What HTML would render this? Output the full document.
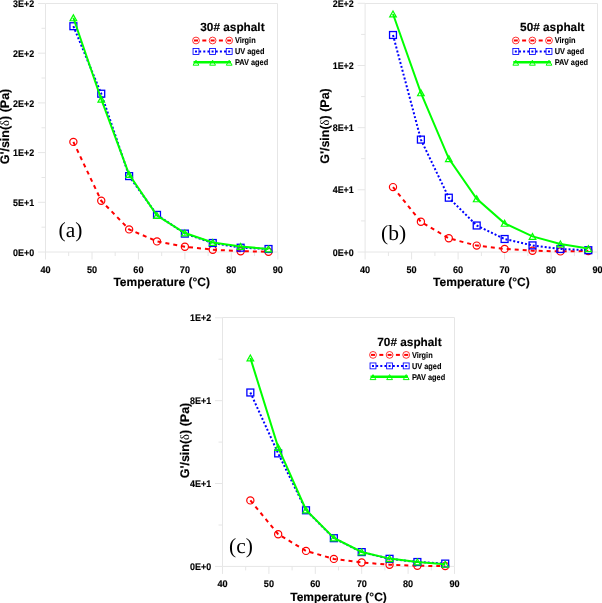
<!DOCTYPE html>
<html><head><meta charset="utf-8"><style>
html,body{margin:0;padding:0;background:#fff;}
svg{display:block;will-change:transform;}
text{font-family:"Liberation Sans",sans-serif;font-weight:bold;fill:#000;text-rendering:geometricPrecision;}
.tl{font-size:9.6px;stroke:#000;stroke-width:0.15px;}
.at{font-size:12px;stroke:#000;stroke-width:0.15px;}
.ay{font-size:12.5px;stroke:#000;stroke-width:0.15px;}
.lt{font-size:11.8px;stroke:#000;stroke-width:0.15px;}
.le{font-size:8.2px;stroke:#000;stroke-width:0.1px;}
.sym{font-family:"Liberation Serif",serif;font-weight:normal;stroke-width:0;}
.lb{font-family:"Liberation Serif",serif;font-weight:normal;font-size:21.5px;}
</style></head><body>
<svg width="602" height="603" viewBox="0 0 602 603">
<rect width="602" height="603" fill="#fff"/>
<path d="M45.5,3.5H277.5V252.0" fill="none" stroke="#e6e6e6" stroke-width="1"/>
<path d="M45.5,3.5V252.0H277.5" fill="none" stroke="#e6e6e6" stroke-width="1"/>
<path d="M38.0,252.0H45.5" stroke="#e6e6e6" stroke-width="1"/>
<text transform="translate(34.20,255.60) scale(0.93,1)" class="tl" text-anchor="end">0E+0</text>
<path d="M41.5,227.2H45.5" stroke="#e6e6e6" stroke-width="1"/>
<path d="M38.0,202.3H45.5" stroke="#e6e6e6" stroke-width="1"/>
<text transform="translate(34.20,205.90) scale(0.93,1)" class="tl" text-anchor="end">5E+1</text>
<path d="M41.5,177.5H45.5" stroke="#e6e6e6" stroke-width="1"/>
<path d="M38.0,152.6H45.5" stroke="#e6e6e6" stroke-width="1"/>
<text transform="translate(34.20,156.20) scale(0.93,1)" class="tl" text-anchor="end">1E+2</text>
<path d="M41.5,127.8H45.5" stroke="#e6e6e6" stroke-width="1"/>
<path d="M38.0,102.9H45.5" stroke="#e6e6e6" stroke-width="1"/>
<text transform="translate(34.20,106.50) scale(0.93,1)" class="tl" text-anchor="end">2E+2</text>
<path d="M41.5,78.0H45.5" stroke="#e6e6e6" stroke-width="1"/>
<path d="M38.0,53.2H45.5" stroke="#e6e6e6" stroke-width="1"/>
<text transform="translate(34.20,56.80) scale(0.93,1)" class="tl" text-anchor="end">2E+2</text>
<path d="M41.5,28.3H45.5" stroke="#e6e6e6" stroke-width="1"/>
<path d="M38.0,3.5H45.5" stroke="#e6e6e6" stroke-width="1"/>
<text transform="translate(34.20,7.10) scale(0.93,1)" class="tl" text-anchor="end">3E+2</text>
<path d="M45.5,252.0V259.5" stroke="#e6e6e6" stroke-width="1"/>
<text transform="translate(45.50,272.80) scale(0.95,1)" class="tl" text-anchor="middle">40</text>
<path d="M68.7,252.0V256.0" stroke="#e6e6e6" stroke-width="1"/>
<path d="M92.0,252.0V259.5" stroke="#e6e6e6" stroke-width="1"/>
<text transform="translate(91.96,272.80) scale(0.95,1)" class="tl" text-anchor="middle">50</text>
<path d="M115.2,252.0V256.0" stroke="#e6e6e6" stroke-width="1"/>
<path d="M138.4,252.0V259.5" stroke="#e6e6e6" stroke-width="1"/>
<text transform="translate(138.42,272.80) scale(0.95,1)" class="tl" text-anchor="middle">60</text>
<path d="M161.7,252.0V256.0" stroke="#e6e6e6" stroke-width="1"/>
<path d="M184.9,252.0V259.5" stroke="#e6e6e6" stroke-width="1"/>
<text transform="translate(184.88,272.80) scale(0.95,1)" class="tl" text-anchor="middle">70</text>
<path d="M208.1,252.0V256.0" stroke="#e6e6e6" stroke-width="1"/>
<path d="M231.3,252.0V259.5" stroke="#e6e6e6" stroke-width="1"/>
<text transform="translate(231.34,272.80) scale(0.95,1)" class="tl" text-anchor="middle">80</text>
<path d="M254.6,252.0V256.0" stroke="#e6e6e6" stroke-width="1"/>
<path d="M277.8,252.0V259.5" stroke="#e6e6e6" stroke-width="1"/>
<text transform="translate(277.80,272.80) scale(0.95,1)" class="tl" text-anchor="middle">90</text>
<text x="161.7" y="286.2" class="at" text-anchor="middle">Temperature (°C)</text>
<text transform="translate(9.0,126.5) rotate(-90)" class="ay" text-anchor="middle">G'/sin(<tspan class="sym">δ</tspan>) (Pa)</text>
<path d="M73.38,141.90 L101.25,200.80 L129.13,229.40 L157.00,241.40 L184.88,246.70 L212.76,249.70 L240.63,251.20 L268.51,251.70" fill="none" stroke="#ff0000" stroke-width="2" stroke-dasharray="4,4"/>
<circle cx="73.38" cy="141.90" r="3.60" fill="none" stroke="#ff0000" stroke-width="1.2"/>
<circle cx="101.25" cy="200.80" r="3.60" fill="none" stroke="#ff0000" stroke-width="1.2"/>
<circle cx="129.13" cy="229.40" r="3.60" fill="none" stroke="#ff0000" stroke-width="1.2"/>
<circle cx="157.00" cy="241.40" r="3.60" fill="none" stroke="#ff0000" stroke-width="1.2"/>
<circle cx="184.88" cy="246.70" r="3.60" fill="none" stroke="#ff0000" stroke-width="1.2"/>
<circle cx="212.76" cy="249.70" r="3.60" fill="none" stroke="#ff0000" stroke-width="1.2"/>
<circle cx="240.63" cy="251.20" r="3.60" fill="none" stroke="#ff0000" stroke-width="1.2"/>
<circle cx="268.51" cy="251.70" r="3.60" fill="none" stroke="#ff0000" stroke-width="1.2"/>
<path d="M73.38,26.20 L101.25,93.70 L129.13,176.10 L157.00,214.90 L184.88,233.60 L212.76,243.00 L240.63,247.70 L268.51,249.00" fill="none" stroke="#0000ff" stroke-width="2" stroke-dasharray="2,2"/>
<rect x="69.93" y="22.75" width="6.90" height="6.90" fill="none" stroke="#0000ff" stroke-width="1.3"/>
<rect x="97.80" y="90.25" width="6.90" height="6.90" fill="none" stroke="#0000ff" stroke-width="1.3"/>
<rect x="125.68" y="172.65" width="6.90" height="6.90" fill="none" stroke="#0000ff" stroke-width="1.3"/>
<rect x="153.55" y="211.45" width="6.90" height="6.90" fill="none" stroke="#0000ff" stroke-width="1.3"/>
<rect x="181.43" y="230.15" width="6.90" height="6.90" fill="none" stroke="#0000ff" stroke-width="1.3"/>
<rect x="209.31" y="239.55" width="6.90" height="6.90" fill="none" stroke="#0000ff" stroke-width="1.3"/>
<rect x="237.18" y="244.25" width="6.90" height="6.90" fill="none" stroke="#0000ff" stroke-width="1.3"/>
<rect x="265.06" y="245.55" width="6.90" height="6.90" fill="none" stroke="#0000ff" stroke-width="1.3"/>
<path d="M73.38,17.80 L101.25,99.20 L129.13,174.50 L157.00,215.50 L184.88,233.00 L212.76,242.40 L240.63,246.50 L268.51,249.00" fill="none" stroke="#00ff00" stroke-width="2"/>
<path d="M73.38,14.85 L76.68,20.75 L70.08,20.75 Z" fill="none" stroke="#00ff00" stroke-width="1.2" stroke-linejoin="miter"/>
<path d="M101.25,96.25 L104.55,102.15 L97.95,102.15 Z" fill="none" stroke="#00ff00" stroke-width="1.2" stroke-linejoin="miter"/>
<path d="M129.13,171.55 L132.43,177.45 L125.83,177.45 Z" fill="none" stroke="#00ff00" stroke-width="1.2" stroke-linejoin="miter"/>
<path d="M157.00,212.55 L160.30,218.45 L153.70,218.45 Z" fill="none" stroke="#00ff00" stroke-width="1.2" stroke-linejoin="miter"/>
<path d="M184.88,230.05 L188.18,235.95 L181.58,235.95 Z" fill="none" stroke="#00ff00" stroke-width="1.2" stroke-linejoin="miter"/>
<path d="M212.76,239.45 L216.06,245.35 L209.46,245.35 Z" fill="none" stroke="#00ff00" stroke-width="1.2" stroke-linejoin="miter"/>
<path d="M240.63,243.55 L243.93,249.45 L237.33,249.45 Z" fill="none" stroke="#00ff00" stroke-width="1.2" stroke-linejoin="miter"/>
<path d="M268.51,246.05 L271.81,251.95 L265.21,251.95 Z" fill="none" stroke="#00ff00" stroke-width="1.2" stroke-linejoin="miter"/>
<text x="200.3" y="31.3" class="lt">30# asphalt</text>
<path d="M194.00,40.50H198.00" stroke="#ff0000" stroke-width="2"/>
<path d="M202.30,40.50H206.30" stroke="#ff0000" stroke-width="2"/>
<path d="M210.60,40.50H214.60" stroke="#ff0000" stroke-width="2"/>
<path d="M218.90,40.50H222.90" stroke="#ff0000" stroke-width="2"/>
<path d="M227.20,40.50H231.20" stroke="#ff0000" stroke-width="2"/>
<circle cx="196.00" cy="40.50" r="3.4" fill="none" stroke="#ff0000" stroke-width="0.8"/>
<circle cx="212.60" cy="40.50" r="3.4" fill="none" stroke="#ff0000" stroke-width="0.8"/>
<circle cx="229.20" cy="40.50" r="3.4" fill="none" stroke="#ff0000" stroke-width="0.8"/>
<path d="M195.00,51.50H230.20" stroke="#0000ff" stroke-width="2" stroke-dasharray="2,2.15"/>
<rect x="193.05" y="48.55" width="5.9" height="5.9" fill="none" stroke="#0000ff" stroke-width="0.85"/>
<rect x="209.65" y="48.55" width="5.9" height="5.9" fill="none" stroke="#0000ff" stroke-width="0.85"/>
<rect x="226.25" y="48.55" width="5.9" height="5.9" fill="none" stroke="#0000ff" stroke-width="0.85"/>
<path d="M193.50,62.30H231.00" stroke="#00ff00" stroke-width="2.4"/>
<path d="M196.00,60.20 L198.90,65.20 L193.10,65.20 Z" fill="none" stroke="#00ff00" stroke-width="1"/>
<path d="M212.60,60.20 L215.50,65.20 L209.70,65.20 Z" fill="none" stroke="#00ff00" stroke-width="1"/>
<path d="M229.20,60.20 L232.10,65.20 L226.30,65.20 Z" fill="none" stroke="#00ff00" stroke-width="1"/>
<text transform="translate(234.90,43.40) scale(0.9,1)" class="le">Virgin</text>
<text transform="translate(234.90,54.40) scale(0.9,1)" class="le">UV aged</text>
<text transform="translate(234.90,65.20) scale(0.9,1)" class="le">PAV aged</text>
<text x="58.6" y="237.4" class="lb">(a)</text>
<path d="M365.1,3.5H597.5V252.0" fill="none" stroke="#e6e6e6" stroke-width="1"/>
<path d="M365.1,3.5V252.0H597.5" fill="none" stroke="#e6e6e6" stroke-width="1"/>
<path d="M357.6,252.0H365.1" stroke="#e6e6e6" stroke-width="1"/>
<text transform="translate(353.80,255.60) scale(0.93,1)" class="tl" text-anchor="end">0E+0</text>
<path d="M361.1,220.9H365.1" stroke="#e6e6e6" stroke-width="1"/>
<path d="M357.6,189.8H365.1" stroke="#e6e6e6" stroke-width="1"/>
<text transform="translate(353.80,193.42) scale(0.93,1)" class="tl" text-anchor="end">4E+1</text>
<path d="M361.1,158.7H365.1" stroke="#e6e6e6" stroke-width="1"/>
<path d="M357.6,127.7H365.1" stroke="#e6e6e6" stroke-width="1"/>
<text transform="translate(353.80,131.25) scale(0.93,1)" class="tl" text-anchor="end">8E+1</text>
<path d="M361.1,96.6H365.1" stroke="#e6e6e6" stroke-width="1"/>
<path d="M357.6,65.5H365.1" stroke="#e6e6e6" stroke-width="1"/>
<text transform="translate(353.80,69.08) scale(0.93,1)" class="tl" text-anchor="end">1E+2</text>
<path d="M361.1,34.4H365.1" stroke="#e6e6e6" stroke-width="1"/>
<path d="M357.6,3.3H365.1" stroke="#e6e6e6" stroke-width="1"/>
<text transform="translate(353.80,6.90) scale(0.93,1)" class="tl" text-anchor="end">2E+2</text>
<path d="M365.1,252.0V259.5" stroke="#e6e6e6" stroke-width="1"/>
<text transform="translate(365.10,272.80) scale(0.95,1)" class="tl" text-anchor="middle">40</text>
<path d="M388.4,252.0V256.0" stroke="#e6e6e6" stroke-width="1"/>
<path d="M411.6,252.0V259.5" stroke="#e6e6e6" stroke-width="1"/>
<text transform="translate(411.60,272.80) scale(0.95,1)" class="tl" text-anchor="middle">50</text>
<path d="M434.9,252.0V256.0" stroke="#e6e6e6" stroke-width="1"/>
<path d="M458.1,252.0V259.5" stroke="#e6e6e6" stroke-width="1"/>
<text transform="translate(458.10,272.80) scale(0.95,1)" class="tl" text-anchor="middle">60</text>
<path d="M481.4,252.0V256.0" stroke="#e6e6e6" stroke-width="1"/>
<path d="M504.6,252.0V259.5" stroke="#e6e6e6" stroke-width="1"/>
<text transform="translate(504.60,272.80) scale(0.95,1)" class="tl" text-anchor="middle">70</text>
<path d="M527.9,252.0V256.0" stroke="#e6e6e6" stroke-width="1"/>
<path d="M551.1,252.0V259.5" stroke="#e6e6e6" stroke-width="1"/>
<text transform="translate(551.10,272.80) scale(0.95,1)" class="tl" text-anchor="middle">80</text>
<path d="M574.4,252.0V256.0" stroke="#e6e6e6" stroke-width="1"/>
<path d="M597.6,252.0V259.5" stroke="#e6e6e6" stroke-width="1"/>
<text transform="translate(597.60,272.80) scale(0.95,1)" class="tl" text-anchor="middle">90</text>
<text x="481.4" y="286.2" class="at" text-anchor="middle">Temperature (°C)</text>
<text transform="translate(329.0,126.0) rotate(-90)" class="ay" text-anchor="middle">G'/sin(<tspan class="sym">δ</tspan>) (Pa)</text>
<path d="M393.00,187.10 L420.90,221.80 L448.80,238.30 L476.70,245.60 L504.60,248.90 L532.50,250.70 L560.40,251.40 L588.30,251.00" fill="none" stroke="#ff0000" stroke-width="2" stroke-dasharray="4,4"/>
<circle cx="393.00" cy="187.10" r="3.60" fill="none" stroke="#ff0000" stroke-width="1.2"/>
<circle cx="420.90" cy="221.80" r="3.60" fill="none" stroke="#ff0000" stroke-width="1.2"/>
<circle cx="448.80" cy="238.30" r="3.60" fill="none" stroke="#ff0000" stroke-width="1.2"/>
<circle cx="476.70" cy="245.60" r="3.60" fill="none" stroke="#ff0000" stroke-width="1.2"/>
<circle cx="504.60" cy="248.90" r="3.60" fill="none" stroke="#ff0000" stroke-width="1.2"/>
<circle cx="532.50" cy="250.70" r="3.60" fill="none" stroke="#ff0000" stroke-width="1.2"/>
<circle cx="560.40" cy="251.40" r="3.60" fill="none" stroke="#ff0000" stroke-width="1.2"/>
<circle cx="588.30" cy="251.00" r="3.60" fill="none" stroke="#ff0000" stroke-width="1.2"/>
<path d="M393.00,35.00 L420.90,139.60 L448.80,197.70 L476.70,225.50 L504.60,239.00 L532.50,245.40 L560.40,249.00 L588.30,250.20" fill="none" stroke="#0000ff" stroke-width="2" stroke-dasharray="2,2"/>
<rect x="389.55" y="31.55" width="6.90" height="6.90" fill="none" stroke="#0000ff" stroke-width="1.3"/>
<rect x="417.45" y="136.15" width="6.90" height="6.90" fill="none" stroke="#0000ff" stroke-width="1.3"/>
<rect x="445.35" y="194.25" width="6.90" height="6.90" fill="none" stroke="#0000ff" stroke-width="1.3"/>
<rect x="473.25" y="222.05" width="6.90" height="6.90" fill="none" stroke="#0000ff" stroke-width="1.3"/>
<rect x="501.15" y="235.55" width="6.90" height="6.90" fill="none" stroke="#0000ff" stroke-width="1.3"/>
<rect x="529.05" y="241.95" width="6.90" height="6.90" fill="none" stroke="#0000ff" stroke-width="1.3"/>
<rect x="556.95" y="245.55" width="6.90" height="6.90" fill="none" stroke="#0000ff" stroke-width="1.3"/>
<rect x="584.85" y="246.75" width="6.90" height="6.90" fill="none" stroke="#0000ff" stroke-width="1.3"/>
<path d="M393.00,14.00 L420.90,92.80 L448.80,158.60 L476.70,198.80 L504.60,223.30 L532.50,236.40 L560.40,244.00 L588.30,248.60" fill="none" stroke="#00ff00" stroke-width="2"/>
<path d="M393.00,11.05 L396.30,16.95 L389.70,16.95 Z" fill="none" stroke="#00ff00" stroke-width="1.2" stroke-linejoin="miter"/>
<path d="M420.90,89.85 L424.20,95.75 L417.60,95.75 Z" fill="none" stroke="#00ff00" stroke-width="1.2" stroke-linejoin="miter"/>
<path d="M448.80,155.65 L452.10,161.55 L445.50,161.55 Z" fill="none" stroke="#00ff00" stroke-width="1.2" stroke-linejoin="miter"/>
<path d="M476.70,195.85 L480.00,201.75 L473.40,201.75 Z" fill="none" stroke="#00ff00" stroke-width="1.2" stroke-linejoin="miter"/>
<path d="M504.60,220.35 L507.90,226.25 L501.30,226.25 Z" fill="none" stroke="#00ff00" stroke-width="1.2" stroke-linejoin="miter"/>
<path d="M532.50,233.45 L535.80,239.35 L529.20,239.35 Z" fill="none" stroke="#00ff00" stroke-width="1.2" stroke-linejoin="miter"/>
<path d="M560.40,241.05 L563.70,246.95 L557.10,246.95 Z" fill="none" stroke="#00ff00" stroke-width="1.2" stroke-linejoin="miter"/>
<path d="M588.30,245.65 L591.60,251.55 L585.00,251.55 Z" fill="none" stroke="#00ff00" stroke-width="1.2" stroke-linejoin="miter"/>
<text x="520.1" y="31.3" class="lt">50# asphalt</text>
<path d="M513.80,40.50H517.80" stroke="#ff0000" stroke-width="2"/>
<path d="M522.10,40.50H526.10" stroke="#ff0000" stroke-width="2"/>
<path d="M530.40,40.50H534.40" stroke="#ff0000" stroke-width="2"/>
<path d="M538.70,40.50H542.70" stroke="#ff0000" stroke-width="2"/>
<path d="M547.00,40.50H551.00" stroke="#ff0000" stroke-width="2"/>
<circle cx="515.80" cy="40.50" r="3.4" fill="none" stroke="#ff0000" stroke-width="0.8"/>
<circle cx="532.40" cy="40.50" r="3.4" fill="none" stroke="#ff0000" stroke-width="0.8"/>
<circle cx="549.00" cy="40.50" r="3.4" fill="none" stroke="#ff0000" stroke-width="0.8"/>
<path d="M514.80,51.50H550.00" stroke="#0000ff" stroke-width="2" stroke-dasharray="2,2.15"/>
<rect x="512.85" y="48.55" width="5.9" height="5.9" fill="none" stroke="#0000ff" stroke-width="0.85"/>
<rect x="529.45" y="48.55" width="5.9" height="5.9" fill="none" stroke="#0000ff" stroke-width="0.85"/>
<rect x="546.05" y="48.55" width="5.9" height="5.9" fill="none" stroke="#0000ff" stroke-width="0.85"/>
<path d="M513.30,62.30H550.80" stroke="#00ff00" stroke-width="2.4"/>
<path d="M515.80,60.20 L518.70,65.20 L512.90,65.20 Z" fill="none" stroke="#00ff00" stroke-width="1"/>
<path d="M532.40,60.20 L535.30,65.20 L529.50,65.20 Z" fill="none" stroke="#00ff00" stroke-width="1"/>
<path d="M549.00,60.20 L551.90,65.20 L546.10,65.20 Z" fill="none" stroke="#00ff00" stroke-width="1"/>
<text transform="translate(554.70,43.40) scale(0.9,1)" class="le">Virgin</text>
<text transform="translate(554.70,54.40) scale(0.9,1)" class="le">UV aged</text>
<text transform="translate(554.70,65.20) scale(0.9,1)" class="le">PAV aged</text>
<text x="381.1" y="239.6" class="lb">(b)</text>
<path d="M222.5,317.5H454.5V566.4" fill="none" stroke="#e6e6e6" stroke-width="1"/>
<path d="M222.5,317.5V566.4H454.5" fill="none" stroke="#e6e6e6" stroke-width="1"/>
<path d="M215.0,566.4H222.5" stroke="#e6e6e6" stroke-width="1"/>
<text transform="translate(211.20,570.00) scale(0.93,1)" class="tl" text-anchor="end">0E+0</text>
<path d="M218.5,525.0H222.5" stroke="#e6e6e6" stroke-width="1"/>
<path d="M215.0,483.5H222.5" stroke="#e6e6e6" stroke-width="1"/>
<text transform="translate(211.20,487.13) scale(0.93,1)" class="tl" text-anchor="end">4E+1</text>
<path d="M218.5,442.1H222.5" stroke="#e6e6e6" stroke-width="1"/>
<path d="M215.0,400.7H222.5" stroke="#e6e6e6" stroke-width="1"/>
<text transform="translate(211.20,404.27) scale(0.93,1)" class="tl" text-anchor="end">8E+1</text>
<path d="M218.5,359.2H222.5" stroke="#e6e6e6" stroke-width="1"/>
<path d="M215.0,317.8H222.5" stroke="#e6e6e6" stroke-width="1"/>
<text transform="translate(211.20,321.40) scale(0.93,1)" class="tl" text-anchor="end">1E+2</text>
<path d="M222.5,566.4V573.9" stroke="#e6e6e6" stroke-width="1"/>
<text transform="translate(222.50,587.20) scale(0.95,1)" class="tl" text-anchor="middle">40</text>
<path d="M245.7,566.4V570.4" stroke="#e6e6e6" stroke-width="1"/>
<path d="M268.9,566.4V573.9" stroke="#e6e6e6" stroke-width="1"/>
<text transform="translate(268.90,587.20) scale(0.95,1)" class="tl" text-anchor="middle">50</text>
<path d="M292.1,566.4V570.4" stroke="#e6e6e6" stroke-width="1"/>
<path d="M315.3,566.4V573.9" stroke="#e6e6e6" stroke-width="1"/>
<text transform="translate(315.30,587.20) scale(0.95,1)" class="tl" text-anchor="middle">60</text>
<path d="M338.5,566.4V570.4" stroke="#e6e6e6" stroke-width="1"/>
<path d="M361.7,566.4V573.9" stroke="#e6e6e6" stroke-width="1"/>
<text transform="translate(361.70,587.20) scale(0.95,1)" class="tl" text-anchor="middle">70</text>
<path d="M384.9,566.4V570.4" stroke="#e6e6e6" stroke-width="1"/>
<path d="M408.1,566.4V573.9" stroke="#e6e6e6" stroke-width="1"/>
<text transform="translate(408.10,587.20) scale(0.95,1)" class="tl" text-anchor="middle">80</text>
<path d="M431.3,566.4V570.4" stroke="#e6e6e6" stroke-width="1"/>
<path d="M454.5,566.4V573.9" stroke="#e6e6e6" stroke-width="1"/>
<text transform="translate(454.50,587.20) scale(0.95,1)" class="tl" text-anchor="middle">90</text>
<text x="338.5" y="600.6" class="at" text-anchor="middle">Temperature (°C)</text>
<text transform="translate(189.0,440.5) rotate(-90)" class="ay" text-anchor="middle">G'/sin(<tspan class="sym">δ</tspan>) (Pa)</text>
<path d="M250.34,500.40 L278.18,534.20 L306.02,550.90 L333.86,558.90 L361.70,562.50 L389.54,564.70 L417.38,565.80 L445.22,566.00" fill="none" stroke="#ff0000" stroke-width="2" stroke-dasharray="4,4"/>
<circle cx="250.34" cy="500.40" r="3.60" fill="none" stroke="#ff0000" stroke-width="1.2"/>
<circle cx="278.18" cy="534.20" r="3.60" fill="none" stroke="#ff0000" stroke-width="1.2"/>
<circle cx="306.02" cy="550.90" r="3.60" fill="none" stroke="#ff0000" stroke-width="1.2"/>
<circle cx="333.86" cy="558.90" r="3.60" fill="none" stroke="#ff0000" stroke-width="1.2"/>
<circle cx="361.70" cy="562.50" r="3.60" fill="none" stroke="#ff0000" stroke-width="1.2"/>
<circle cx="389.54" cy="564.70" r="3.60" fill="none" stroke="#ff0000" stroke-width="1.2"/>
<circle cx="417.38" cy="565.80" r="3.60" fill="none" stroke="#ff0000" stroke-width="1.2"/>
<circle cx="445.22" cy="566.00" r="3.60" fill="none" stroke="#ff0000" stroke-width="1.2"/>
<path d="M250.34,392.50 L278.18,453.40 L306.02,510.30 L333.86,538.20 L361.70,552.10 L389.54,558.80 L417.38,562.00 L445.22,563.60" fill="none" stroke="#0000ff" stroke-width="2" stroke-dasharray="2,2"/>
<rect x="246.89" y="389.05" width="6.90" height="6.90" fill="none" stroke="#0000ff" stroke-width="1.3"/>
<rect x="274.73" y="449.95" width="6.90" height="6.90" fill="none" stroke="#0000ff" stroke-width="1.3"/>
<rect x="302.57" y="506.85" width="6.90" height="6.90" fill="none" stroke="#0000ff" stroke-width="1.3"/>
<rect x="330.41" y="534.75" width="6.90" height="6.90" fill="none" stroke="#0000ff" stroke-width="1.3"/>
<rect x="358.25" y="548.65" width="6.90" height="6.90" fill="none" stroke="#0000ff" stroke-width="1.3"/>
<rect x="386.09" y="555.35" width="6.90" height="6.90" fill="none" stroke="#0000ff" stroke-width="1.3"/>
<rect x="413.93" y="558.55" width="6.90" height="6.90" fill="none" stroke="#0000ff" stroke-width="1.3"/>
<rect x="441.77" y="560.15" width="6.90" height="6.90" fill="none" stroke="#0000ff" stroke-width="1.3"/>
<path d="M250.34,357.90 L278.18,447.40 L306.02,510.00 L333.86,538.00 L361.70,552.00 L389.54,558.60 L417.38,562.00 L445.22,564.30" fill="none" stroke="#00ff00" stroke-width="2"/>
<path d="M250.34,354.95 L253.64,360.85 L247.04,360.85 Z" fill="none" stroke="#00ff00" stroke-width="1.2" stroke-linejoin="miter"/>
<path d="M278.18,444.45 L281.48,450.35 L274.88,450.35 Z" fill="none" stroke="#00ff00" stroke-width="1.2" stroke-linejoin="miter"/>
<path d="M306.02,507.05 L309.32,512.95 L302.72,512.95 Z" fill="none" stroke="#00ff00" stroke-width="1.2" stroke-linejoin="miter"/>
<path d="M333.86,535.05 L337.16,540.95 L330.56,540.95 Z" fill="none" stroke="#00ff00" stroke-width="1.2" stroke-linejoin="miter"/>
<path d="M361.70,549.05 L365.00,554.95 L358.40,554.95 Z" fill="none" stroke="#00ff00" stroke-width="1.2" stroke-linejoin="miter"/>
<path d="M389.54,555.65 L392.84,561.55 L386.24,561.55 Z" fill="none" stroke="#00ff00" stroke-width="1.2" stroke-linejoin="miter"/>
<path d="M417.38,559.05 L420.68,564.95 L414.08,564.95 Z" fill="none" stroke="#00ff00" stroke-width="1.2" stroke-linejoin="miter"/>
<path d="M445.22,561.35 L448.52,567.25 L441.92,567.25 Z" fill="none" stroke="#00ff00" stroke-width="1.2" stroke-linejoin="miter"/>
<text x="377.3" y="345.7" class="lt">70# asphalt</text>
<path d="M371.00,354.90H375.00" stroke="#ff0000" stroke-width="2"/>
<path d="M379.30,354.90H383.30" stroke="#ff0000" stroke-width="2"/>
<path d="M387.60,354.90H391.60" stroke="#ff0000" stroke-width="2"/>
<path d="M395.90,354.90H399.90" stroke="#ff0000" stroke-width="2"/>
<path d="M404.20,354.90H408.20" stroke="#ff0000" stroke-width="2"/>
<circle cx="373.00" cy="354.90" r="3.4" fill="none" stroke="#ff0000" stroke-width="0.8"/>
<circle cx="389.60" cy="354.90" r="3.4" fill="none" stroke="#ff0000" stroke-width="0.8"/>
<circle cx="406.20" cy="354.90" r="3.4" fill="none" stroke="#ff0000" stroke-width="0.8"/>
<path d="M372.00,365.90H407.20" stroke="#0000ff" stroke-width="2" stroke-dasharray="2,2.15"/>
<rect x="370.05" y="362.95" width="5.9" height="5.9" fill="none" stroke="#0000ff" stroke-width="0.85"/>
<rect x="386.65" y="362.95" width="5.9" height="5.9" fill="none" stroke="#0000ff" stroke-width="0.85"/>
<rect x="403.25" y="362.95" width="5.9" height="5.9" fill="none" stroke="#0000ff" stroke-width="0.85"/>
<path d="M370.50,376.70H408.00" stroke="#00ff00" stroke-width="2.4"/>
<path d="M373.00,374.60 L375.90,379.60 L370.10,379.60 Z" fill="none" stroke="#00ff00" stroke-width="1"/>
<path d="M389.60,374.60 L392.50,379.60 L386.70,379.60 Z" fill="none" stroke="#00ff00" stroke-width="1"/>
<path d="M406.20,374.60 L409.10,379.60 L403.30,379.60 Z" fill="none" stroke="#00ff00" stroke-width="1"/>
<text transform="translate(411.90,357.80) scale(0.9,1)" class="le">Virgin</text>
<text transform="translate(411.90,368.80) scale(0.9,1)" class="le">UV aged</text>
<text transform="translate(411.90,379.60) scale(0.9,1)" class="le">PAV aged</text>
<text x="229.0" y="552.5" class="lb">(c)</text>
</svg></body></html>
